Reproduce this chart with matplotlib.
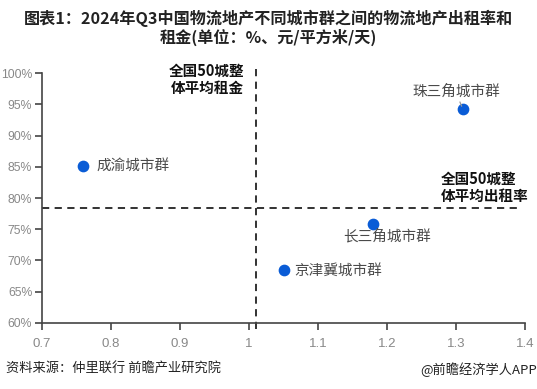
import matplotlib
matplotlib.use("Agg")
import matplotlib.pyplot as plt

plt.rcParams['font.family'] = ['Noto Sans CJK SC', 'DejaVu Sans']

cities = ["成渝城市群", "珠三角城市群", "长三角城市群", "京津冀城市群"]
rent = [0.76, 1.31, 1.18, 1.05]
occupancy = [85.1, 94.2, 75.8, 68.4]
avg_rent = 1.01
avg_occ = 78.4
xticks = [0.7, 0.8, 0.9, 1.0, 1.1, 1.2, 1.3, 1.4]
xticklabels = ["0.7", "0.8", "0.9", "1", "1.1", "1.2", "1.3", "1.4"]
yticks = [60, 65, 70, 75, 80, 85, 90, 95, 100]
yticklabels = [f"{v}%" for v in yticks]

fig = plt.figure(figsize=(5.37, 3.89), dpi=100)
ax = fig.add_axes([0.0782, 0.1704, 0.8995, 0.6412])
ax.set_xlim(0.7, 1.4)
ax.set_ylim(60, 100)

blue = "#0A5CD6"
ax.scatter(rent, occupancy, s=55, color=blue, zorder=3, clip_on=False)

# average lines
ax.plot([avg_rent, avg_rent], [59, 101.5], ls=(0, (4, 3)), color="#222222", lw=1.3,
        clip_on=False, zorder=2)
ax.plot([0.7, 1.39], [avg_occ, avg_occ], ls=(0, (4, 3)), color="#222222", lw=1.3,
        clip_on=False, zorder=2)

lab_color = "#4a4a4a"
fs = 10.5
# labels
ax.annotate(cities[0], (rent[0], occupancy[0]), xytext=(9.5, 0), textcoords="offset points",
            va="center", ha="left", fontsize=fs, color=lab_color)
ax.annotate(cities[1], (rent[1], occupancy[1]), xytext=(-5, 12.5), textcoords="offset points",
            va="center", ha="center", fontsize=fs, color=lab_color,
            arrowprops=dict(arrowstyle="-", color="#999999", lw=0.9,
                            shrinkA=0, shrinkB=2.5), zorder=4)
ax.annotate(cities[2], (rent[2], occupancy[2]), xytext=(10, -8.5), textcoords="offset points",
            va="center", ha="center", fontsize=fs, color=lab_color)
ax.annotate(cities[3], (rent[3], occupancy[3]), xytext=(8, 0), textcoords="offset points",
            va="center", ha="left", fontsize=fs, color=lab_color)

ax.text(0.993, 99.0, "全国50城整\n体平均租金", ha="right", va="center", fontsize=10.5,
        fontweight="bold", color="#111111", linespacing=1.1)
ax.text(1.278, 81.7, "全国50城整\n体平均出租率", ha="left", va="center", fontsize=10.5,
        fontweight="bold", color="#111111", linespacing=1.1)

ax.set_xticks(xticks)
ax.set_xticklabels(xticklabels, family=["Liberation Sans"], fontsize=9.5, color="#888888")
ax.set_yticks(yticks)
ax.set_yticklabels(yticklabels, family=["Liberation Sans"], fontsize=8.8, color="#888888")
for s in ["top", "right"]:
    ax.spines[s].set_visible(False)
for s in ["left", "bottom"]:
    ax.spines[s].set_color("#444444")
    ax.spines[s].set_linewidth(1.2)
ax.tick_params(axis="both", length=5, width=1.2, color="#444444", pad=3)
ax.tick_params(axis="y", pad=2)
ax.tick_params(axis="x", pad=6)

fig.text(0.5, 0.928, "图表1：2024年Q3中国物流地产不同城市群之间的物流地产出租率和\n租金(单位：%、元/平方米/天)",
         ha="center", va="center", fontsize=11.6, fontweight="bold", color="#222222",
         linespacing=1.15)
fig.text(0.012, 0.05, "资料来源：仲里联行 前瞻产业研究院", ha="left", va="center",
         fontsize=9.5, color="#222222")
fig.text(1.0, 0.05, "@前瞻经济学人APP", ha="right", va="center", fontsize=9.5, color="#222222")

fig.savefig("out.png", dpi=100)
